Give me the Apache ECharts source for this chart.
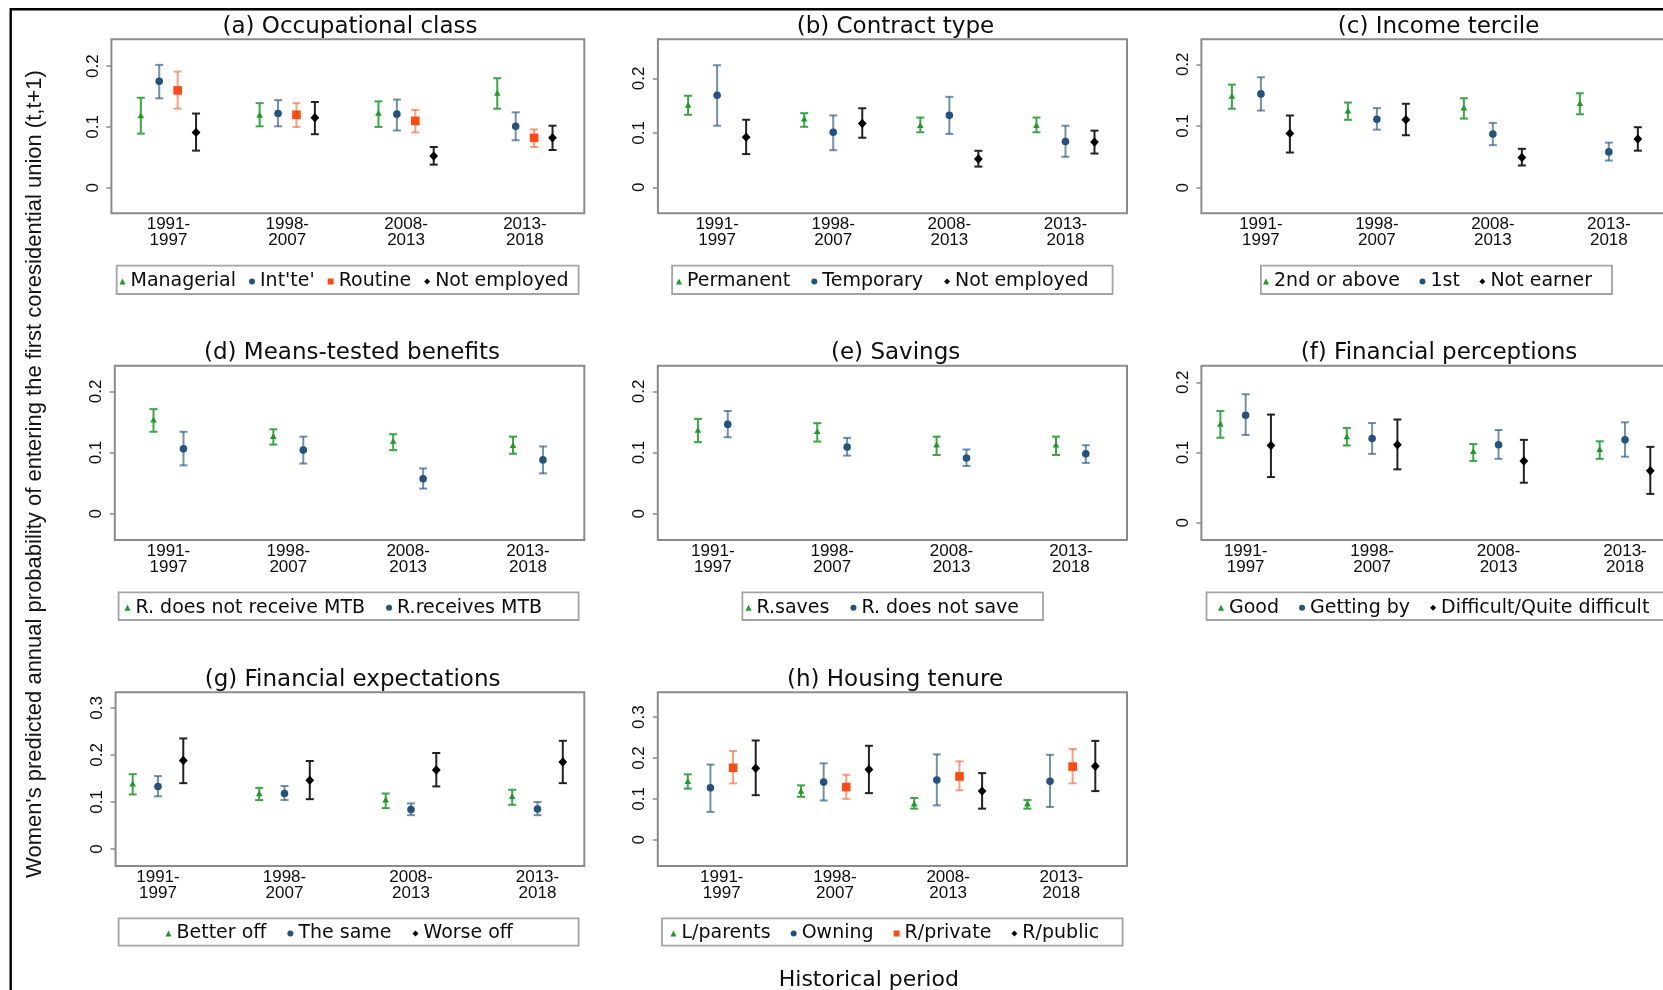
<!DOCTYPE html>
<html>
<head>
<meta charset="utf-8">
<script src="https://cdn.jsdelivr.net/npm/echarts@6/dist/echarts.min.js"></script>
<style>
  html, body { margin: 0; padding: 0; background: #ffffff; }
  #chart { width: 1663px; height: 990px; }
</style>
</head>
<body>
<div id="chart"></div>
<script>
// ---- Tick labels ----
const periods = ['1991-\n1997', '1998-\n2007', '2008-\n2013', '2013-\n2018'];
const periodTicks = [1, 2, 3, 4];
const yTicks3 = [0, 0.1, 0.2];
const yTicks4 = [0, 0.1, 0.2, 0.3];

// ---- (a) Occupational class ----
const aGroups = ['Managerial', "Int'te'", 'Routine', 'Not employed'];
const aEst = [[0.118, 0.119, 0.122, 0.155], [0.175, 0.122, 0.121, 0.101], [0.160, 0.120, 0.110, 0.082], [0.091, 0.115, 0.052, 0.082]];
const aLo  = [[0.089, 0.101, 0.100, 0.130], [0.147, 0.101, 0.094, 0.078], [0.130, 0.100, 0.091, 0.067], [0.061, 0.088, 0.038, 0.062]];
const aHi  = [[0.148, 0.139, 0.142, 0.180], [0.202, 0.144, 0.145, 0.124], [0.191, 0.139, 0.128, 0.096], [0.122, 0.141, 0.067, 0.102]];

// ---- (b) Contract type ----
const bGroups = ['Permanent', 'Temporary', 'Not employed'];
const bEst = [[0.150, 0.125, 0.113, 0.113], [0.169, 0.101, 0.132, 0.084], [0.092, 0.117, 0.052, 0.083]];
const bLo  = [[0.133, 0.111, 0.101, 0.101], [0.113, 0.068, 0.098, 0.056], [0.061, 0.091, 0.038, 0.062]];
const bHi  = [[0.168, 0.136, 0.128, 0.128], [0.224, 0.132, 0.166, 0.113], [0.124, 0.145, 0.067, 0.104]];

// ---- (c) Income tercile ----
const cGroups = ['2nd or above', '1st', 'Not earner'];
const cEst = [[0.148, 0.124, 0.129, 0.136], [0.152, 0.111, 0.087, 0.058], [0.088, 0.110, 0.049, 0.079]];
const cLo  = [[0.128, 0.110, 0.112, 0.119], [0.125, 0.094, 0.069, 0.044], [0.057, 0.085, 0.036, 0.060]];
const cHi  = [[0.167, 0.138, 0.145, 0.153], [0.179, 0.129, 0.105, 0.073], [0.117, 0.136, 0.063, 0.098]];

// ---- (d) Means-tested benefits ----
const dGroups = ['R. does not receive MTB', 'R.receives MTB'];
const dEst = [[0.153, 0.126, 0.118, 0.111], [0.106, 0.104, 0.057, 0.088]];
const dLo  = [[0.134, 0.113, 0.104, 0.098], [0.079, 0.082, 0.041, 0.066]];
const dHi  = [[0.171, 0.138, 0.130, 0.126], [0.134, 0.126, 0.074, 0.110]];

// ---- (e) Savings ----
const eGroups = ['R.saves', 'R. does not save'];
const eEst = [[0.136, 0.134, 0.112, 0.112], [0.146, 0.109, 0.091, 0.098]];
const eLo  = [[0.117, 0.118, 0.096, 0.096], [0.125, 0.095, 0.078, 0.083]];
const eHi  = [[0.155, 0.148, 0.126, 0.126], [0.168, 0.124, 0.105, 0.112]];

// ---- (f) Financial perceptions ----
const fGroups = ['Good', 'Getting by', 'Difficult/Quite difficult'];
const fEst = [[0.140, 0.122, 0.101, 0.104], [0.153, 0.120, 0.111, 0.118], [0.110, 0.111, 0.088, 0.074]];
const fLo  = [[0.121, 0.110, 0.088, 0.091], [0.125, 0.098, 0.091, 0.094], [0.065, 0.076, 0.057, 0.041]];
const fHi  = [[0.159, 0.135, 0.112, 0.116], [0.183, 0.142, 0.132, 0.143], [0.154, 0.147, 0.118, 0.108]];

// ---- (g) Financial expectations ----
const gGroups = ['Better off', 'The same', 'Worse off'];
const gEst = [[0.138, 0.117, 0.104, 0.111], [0.133, 0.118, 0.084, 0.085], [0.188, 0.146, 0.168, 0.185]];
const gLo  = [[0.116, 0.104, 0.087, 0.094], [0.112, 0.104, 0.072, 0.072], [0.140, 0.106, 0.133, 0.140]];
const gHi  = [[0.159, 0.130, 0.118, 0.126], [0.155, 0.134, 0.097, 0.100], [0.235, 0.187, 0.204, 0.230]];

// ---- (h) Housing tenure ----
const hGroups = ['L/parents', 'Owning', 'R/private', 'R/public'];
const hEst = [[0.142, 0.118, 0.087, 0.087], [0.127, 0.141, 0.146, 0.143], [0.176, 0.129, 0.155, 0.179], [0.175, 0.172, 0.119, 0.180]];
const hLo  = [[0.125, 0.105, 0.076, 0.076], [0.068, 0.096, 0.084, 0.080], [0.138, 0.100, 0.121, 0.138], [0.109, 0.114, 0.076, 0.119]];
const hHi  = [[0.160, 0.133, 0.102, 0.097], [0.184, 0.187, 0.209, 0.208], [0.217, 0.159, 0.192, 0.222], [0.243, 0.230, 0.163, 0.242]];

// Marker / interval styles for each kind of group
const STYLES = {
  green:  { marker: '#1f9a2a', ci: '#3aa646', shape: 'triangle', icon: 'triangle' },
  blue:   { marker: '#24527e', ci: 'rgba(40,88,132,0.66)', shape: 'circle', icon: 'circle' },
  orange: { marker: '#ff4a12', ci: 'rgba(255,92,40,0.6)', shape: 'square', icon: 'rect' },
  black:  { marker: '#000000', ci: '#222222', shape: 'diamond', icon: 'diamond' }
};

const panels = [
  { title: '(a) Occupational class',       groups: aGroups, kinds: ['green', 'blue', 'orange', 'black'], est: aEst, lo: aLo, hi: aHi, yTicks: yTicks3 },
  { title: '(b) Contract type',            groups: bGroups, kinds: ['green', 'blue', 'black'],           est: bEst, lo: bLo, hi: bHi, yTicks: yTicks3 },
  { title: '(c) Income tercile',           groups: cGroups, kinds: ['green', 'blue', 'black'],           est: cEst, lo: cLo, hi: cHi, yTicks: yTicks3 },
  { title: '(d) Means-tested benefits',    groups: dGroups, kinds: ['green', 'blue'],                    est: dEst, lo: dLo, hi: dHi, yTicks: yTicks3 },
  { title: '(e) Savings',                  groups: eGroups, kinds: ['green', 'blue'],                    est: eEst, lo: eLo, hi: eHi, yTicks: yTicks3 },
  { title: '(f) Financial perceptions',    groups: fGroups, kinds: ['green', 'blue', 'black'],           est: fEst, lo: fLo, hi: fHi, yTicks: yTicks3 },
  { title: '(g) Financial expectations',   groups: gGroups, kinds: ['green', 'blue', 'black'],           est: gEst, lo: gLo, hi: gHi, yTicks: yTicks4 },
  { title: '(h) Housing tenure',           groups: hGroups, kinds: ['green', 'blue', 'orange', 'black'], est: hEst, lo: hLo, hi: hHi, yTicks: yTicks4 }
];

// Panel geometry: plot box [left, top, width, height], axis ranges, dodge width,
// title centre, legend frame [x, y, w, h], legend start and item gap.
const layout = [
  { box: [111.4, 39.3, 472.9, 174],   x: [0.52, 4.5],  y: [-0.042, 0.244],  dodge: 0.155, title: [350, 27.5],    frame: [116.7, 265.7, 461.9, 28.3], legLeft: 119.5, legMid: 281.5, legGap: 13 },
  { box: [657.9, 39.3, 469.1, 174],   x: [0.49, 4.53], y: [-0.0477, 0.2716], dodge: 0.25, title: [895.4, 27.5],  frame: [672.1, 265.7, 440.5, 28.3], legLeft: 676,   legMid: 281.5, legGap: 21 },
  { box: [1201.4, 39.3, 466.6, 174],  x: [0.487, 4.51], y: [-0.0415, 0.2405], dodge: 0.25, title: [1438.6, 27.5], frame: [1260.9, 265.7, 351.1, 28.3], legLeft: 1263, legMid: 281.5, legGap: 19.5 },
  { box: [114.8, 365.7, 469.5, 174.3], x: [0.552, 4.47], y: [-0.043, 0.242], dodge: 0.25, title: [352, 353],   frame: [118.6, 592.3, 460, 27.7],  legLeft: 124.5, legMid: 607.8, legGap: 21 },
  { box: [657.8, 365.7, 469.2, 174.3], x: [0.539, 4.47], y: [-0.043, 0.242], dodge: 0.25, title: [895.6, 353], frame: [742.4, 592.3, 300.6, 27.7], legLeft: 745.5, legMid: 607.8, legGap: 21 },
  { box: [1201.4, 365.7, 466.6, 174.3], x: [0.65, 4.34], y: [-0.0246, 0.2236], dodge: 0.2, title: [1439, 353], frame: [1206.5, 592.3, 500, 27.7], legLeft: 1218,  legMid: 607.8, legGap: 20 },
  { box: [115.6, 692.3, 468.7, 173.7], x: [0.665, 4.37], y: [-0.036, 0.333], dodge: 0.2, title: [352.6, 679.6], frame: [118.6, 918.3, 460, 27.4],  legLeft: 165.5, legMid: 933.5, legGap: 21 },
  { box: [657.8, 692.3, 469.2, 173.7], x: [0.435, 4.58], y: [-0.0645, 0.361], dodge: 0.2, title: [895, 679.6],   frame: [662, 918.3, 460.6, 27.4],  legLeft: 670.5, legMid: 933.5, legGap: 20 }
];

const TICK_FONT = 'Liberation Sans';
const WIDE_FONT = 'DejaVu Sans';

// Point estimate with a capped confidence interval
function makeRenderer(style) {
  return function (params, api) {
    const x = api.value(0);
    const pEst = api.coord([x, api.value(1)]);
    const pLo = api.coord([x, api.value(2)]);
    const pHi = api.coord([x, api.value(3)]);
    const cap = 4;
    const ciStyle = { stroke: style.ci, lineWidth: 2 };
    const cx = pEst[0], cy = pEst[1];
    let marker;
    if (style.shape === 'triangle') {
      marker = { type: 'polygon', shape: { points: [[cx, cy - 3.6], [cx - 3.3, cy + 2.3], [cx + 3.3, cy + 2.3]] }, style: { fill: style.marker } };
    } else if (style.shape === 'circle') {
      marker = { type: 'circle', shape: { cx: cx, cy: cy, r: 3.8 }, style: { fill: style.marker } };
    } else if (style.shape === 'square') {
      marker = { type: 'rect', shape: { x: cx - 4.3, y: cy - 4.3, width: 8.6, height: 8.6 }, style: { fill: style.marker } };
    } else {
      marker = { type: 'polygon', shape: { points: [[cx, cy - 4.7], [cx + 4.4, cy], [cx, cy + 4.7], [cx - 4.4, cy]] }, style: { fill: style.marker } };
    }
    return {
      type: 'group',
      children: [
        { type: 'line', shape: { x1: pLo[0], y1: pLo[1], x2: pHi[0], y2: pHi[1] }, style: ciStyle },
        { type: 'line', shape: { x1: pLo[0] - cap, y1: pLo[1], x2: pLo[0] + cap, y2: pLo[1] }, style: ciStyle },
        { type: 'line', shape: { x1: pHi[0] - cap, y1: pHi[1], x2: pHi[0] + cap, y2: pHi[1] }, style: ciStyle },
        marker
      ]
    };
  };
}

const grid = [], xAxis = [], yAxis = [], series = [], legend = [], graphic = [];

panels.forEach(function (P, p) {
  const L = layout[p];
  grid.push({
    left: L.box[0], top: L.box[1], width: L.box[2], height: L.box[3],
    show: true, borderColor: '#8a8a8a', borderWidth: 2, backgroundColor: 'transparent',
    containLabel: false, outerBoundsMode: 'none'
  });
  xAxis.push({
    type: 'value', gridIndex: p, min: L.x[0], max: L.x[1],
    axisLine: { show: false }, axisTick: { show: false }, splitLine: { show: false },
    axisLabel: {
      customValues: periodTicks, margin: 3,
      formatter: function (v) { return periods[Math.round(v) - 1]; },
      fontFamily: TICK_FONT, fontSize: 17, lineHeight: 16, color: '#0d0d0d'
    }
  });
  yAxis.push({
    type: 'value', gridIndex: p, min: L.y[0], max: L.y[1],
    axisLine: { show: false }, splitLine: { show: false },
    axisTick: { show: true, customValues: P.yTicks, length: 5, lineStyle: { color: '#8a8a8a', width: 1.5 } },
    axisLabel: {
      customValues: P.yTicks, rotate: 90, margin: 10,
      formatter: function (v) { return v === 0 ? '0' : String(Math.round(v * 10) / 10); },
      fontFamily: TICK_FONT, fontSize: 17, color: '#0d0d0d'
    }
  });
  const n = P.groups.length;
  P.groups.forEach(function (name, g) {
    const st = STYLES[P.kinds[g]];
    const shift = (g - (n - 1) / 2) * L.dodge;
    const data = P.est[g].map(function (v, i) { return [periodTicks[i] + shift, v, P.lo[g][i], P.hi[g][i]]; });
    series.push({
      type: 'custom', name: name, xAxisIndex: p, yAxisIndex: p,
      itemStyle: { color: st.marker },
      encode: { x: 0, y: [1, 2, 3] },
      data: data,
      renderItem: makeRenderer(st),
      silent: true
    });
  });
  legend.push({
    left: L.legLeft, top: L.legMid - 10, orient: 'horizontal', padding: 0,
    itemWidth: 6, itemHeight: 6, itemGap: L.legGap, selectedMode: false,
    data: P.groups.map(function (name, g) { return { name: name, icon: STYLES[P.kinds[g]].icon }; }),
    textStyle: { fontFamily: WIDE_FONT, fontSize: 19, color: '#0d0d0d', lineHeight: 20 }
  });
  // legend frame
  graphic.push({
    type: 'rect', z: 1, silent: true,
    shape: { x: L.frame[0], y: L.frame[1], width: L.frame[2], height: L.frame[3] },
    style: { fill: 'none', stroke: '#a3a3a3', lineWidth: 1.8 }
  });
  // panel title
  graphic.push({
    type: 'text', z: 5, silent: true, x: L.title[0], y: L.title[1],
    style: {
      text: P.title, font: '23px "' + WIDE_FONT + '"', fill: '#0d0d0d',
      align: 'center', verticalAlign: 'middle', textAlign: 'center', textVerticalAlign: 'middle'
    }
  });
});

// outer frame
graphic.push({
  type: 'rect', z: 1, silent: true,
  shape: { x: 10.7, y: 9.3, width: 1800, height: 1200 },
  style: { fill: 'none', stroke: '#000000', lineWidth: 2.4 }
});
// shared axis titles
graphic.push({
  type: 'text', z: 5, silent: true, x: 35, y: 474, rotation: Math.PI / 2,
  style: {
    text: "Women's predicted annual probability of entering the first coresidential union (t,t+1)",
    font: '22px "' + TICK_FONT + '"', fill: '#141414',
    align: 'center', verticalAlign: 'middle', textAlign: 'center', textVerticalAlign: 'middle'
  }
});
graphic.push({
  type: 'text', z: 5, silent: true, x: 868.8, y: 980,
  style: {
    text: 'Historical period', font: '22px "' + WIDE_FONT + '"', fill: '#0d0d0d',
    align: 'center', verticalAlign: 'middle', textAlign: 'center', textVerticalAlign: 'middle'
  }
});

const chart = echarts.init(document.getElementById('chart'), null, { renderer: 'canvas' });
chart.setOption({
  animation: false,
  backgroundColor: '#ffffff',
  grid: grid,
  xAxis: xAxis,
  yAxis: yAxis,
  legend: legend,
  series: series,
  graphic: graphic
});
</script>
</body>
</html>
